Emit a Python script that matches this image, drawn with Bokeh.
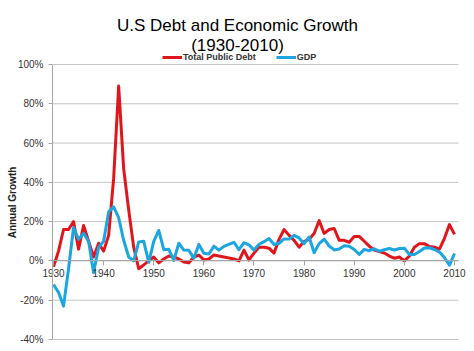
import math
from bokeh.plotting import figure
from bokeh.models import LinearAxis, Label, Legend, LegendItem, FixedTicker, Range1d
from bokeh.embed import file_html
from bokeh.resources import INLINE

years = list(range(1930, 2011))

debt = [-3, 5, 16, 16, 20, 6, 18, 10, 2, 9,
        5, 13, 42, 89, 47, 26, 7, -4, -2, 0,
        2, -1, 1, 2.5, 2, 1, -0.5, -1, 2, 3,
        0.5, 1, 3, 2.5, 2, 1.5, 1, 0, 5.5, 0.5,
        4, 7, 7, 6.5, 4, 11, 16, 13, 10.5, 7,
        10, 11, 14, 20.5, 14, 16, 16.5, 10.5, 10.5, 9.5,
        12.5, 12.5, 10, 7.5, 5.5, 4.8, 4, 2.5, 1.4, 2,
        0, 2.5, 7, 8.8, 8.8, 7.3, 7, 6, 11.5, 18.5,
        13.5]

gdp = [-12, -16, -23, -4, 17, 11, 14, 10, -6, 7,
       10, 25, 27.5, 22, 10.5, 2, 0, 9.7, 10, -0.7,
       10, 15.5, 5.7, 5.9, 0.3, 9, 5.5, 5.4, 1.4, 8.4,
       3.9, 3.5, 7.5, 5.5, 7.4, 8.4, 9.5, 5.7, 9.3, 8.2,
       5.5, 8.5, 9.8, 11.4, 8.4, 9, 11.2, 11.1, 13, 11.7,
       8.8, 12.2, 4.2, 8.8, 11.1, 7.6, 5.6, 6.1, 7.7, 7.5,
       5.8, 3.3, 5.9, 5.2, 6.2, 4.9, 5.7, 6.3, 5.6, 6.3,
       6.5, 3.3, 3.3, 4.8, 6.6, 6.7, 5.8, 4.5, 1.7, -2.2,
       3.8]

y_ticks = [-40, -20, 0, 20, 40, 60, 80, 100]
x_ticks = [1930, 1940, 1950, 1960, 1970, 1980, 1990, 2000, 2010]

title_line1 = "U.S Debt and Economic Growth"
title_line2 = "(1930-2010)"
y_title = "Annual Growth"
series_names = ["Total Public Debt", "GDP"]

FONT = "Liberation Sans"
RED = "#e0161d"
BLUE = "#1ba6df"
AXIS = "#a6a6a6"
GRID = "#c4c4c4"

# plot-area extent (Excel style: half-category padding on the category axis)
X_LO, X_HI = 1929.8, 2010.8
Y_LO, Y_HI = -40, 100

W, H = 474, 351
PL, PR, PT, PB = 52, 16, 64, 12          # plot-area margins in pixels
xs = (X_HI - X_LO) / (W - PL - PR)       # years per pixel
ys = (Y_HI - Y_LO) / (H - PT - PB)       # percent per pixel

p = figure(width=W, height=H, output_backend="svg", toolbar_location=None,
           title=None, x_axis_type=None, y_axis_type=None,
           x_range=Range1d(X_LO - PL * xs, X_HI + PR * xs),
           y_range=Range1d(Y_LO - PB * ys, Y_HI + PT * ys),
           min_border_left=0, min_border_right=0, min_border_top=0,
           min_border_bottom=0)
p.outline_line_color = None
p.background_fill_color = "white"
p.border_fill_color = "white"
p.xgrid.visible = False
p.ygrid.visible = False

# horizontal gridlines across the plot area
p.segment(x0=[X_LO] * len(y_ticks), x1=[X_HI] * len(y_ticks), y0=y_ticks, y1=y_ticks,
          line_color=GRID, line_width=1)

# value axis at the left edge of the plot area
ya = LinearAxis(fixed_location=X_LO, ticker=FixedTicker(ticks=y_ticks), bounds=(Y_LO, Y_HI))
ya.major_label_overrides = {v: f"{v}%" for v in y_ticks}
ya.major_tick_out = 4
ya.major_tick_in = 0
ya.minor_tick_out = 0
ya.minor_tick_in = 0
ya.major_label_standoff = 5
ya.axis_line_color = AXIS
ya.major_tick_line_color = AXIS
ya.major_label_text_font = FONT
ya.major_label_text_font_size = "10px"
ya.major_label_text_color = "#333333"
p.add_layout(ya, "left")

# category axis crossing at zero
xa = LinearAxis(fixed_location=0, ticker=FixedTicker(ticks=x_ticks), bounds=(X_LO, X_HI))
xa.major_tick_out = 5
xa.major_tick_in = 0
xa.minor_tick_out = 0
xa.minor_tick_in = 0
xa.major_label_standoff = 3
xa.axis_line_color = AXIS
xa.major_tick_line_color = AXIS
xa.major_label_text_font = FONT
xa.major_label_text_font_size = "10px"
xa.major_label_text_color = "#333333"
p.add_layout(xa, "below")

r_debt = p.line(years, debt, line_color=RED, line_width=3, line_join="round")
r_gdp = p.line(years, gdp, line_color=BLUE, line_width=3, line_join="round")

legend = Legend(items=[LegendItem(label=series_names[0], renderers=[r_debt]),
                       LegendItem(label=series_names[1], renderers=[r_gdp])],
                orientation="horizontal", location=(162, H - 62),
                glyph_width=20, glyph_height=10, label_height=10,
                label_standoff=1, spacing=20, padding=0, margin=0,
                border_line_alpha=0, background_fill_alpha=0,
                label_text_font=FONT, label_text_font_size="9px",
                label_text_font_style="bold", label_text_color="#333333",
                label_text_baseline="middle")
p.add_layout(legend)

p.add_layout(Label(x=237, y=H - 25, x_units="screen", y_units="screen",
                   text=title_line1, text_align="center", text_baseline="alphabetic",
                   text_font=FONT, text_font_size="17px", text_color="black"))
p.add_layout(Label(x=237, y=H - 45, x_units="screen", y_units="screen",
                   text=title_line2, text_align="center", text_baseline="alphabetic",
                   text_font=FONT, text_font_size="17px", text_color="black"))
p.add_layout(Label(x=12, y=H - 202, x_units="screen", y_units="screen",
                   text=y_title, angle=math.pi / 2, text_align="center",
                   text_baseline="middle", text_font=FONT, text_font_size="10px",
                   text_font_style="bold", text_color="#222222"))

open("out.html", "w").write(file_html(p, INLINE))
